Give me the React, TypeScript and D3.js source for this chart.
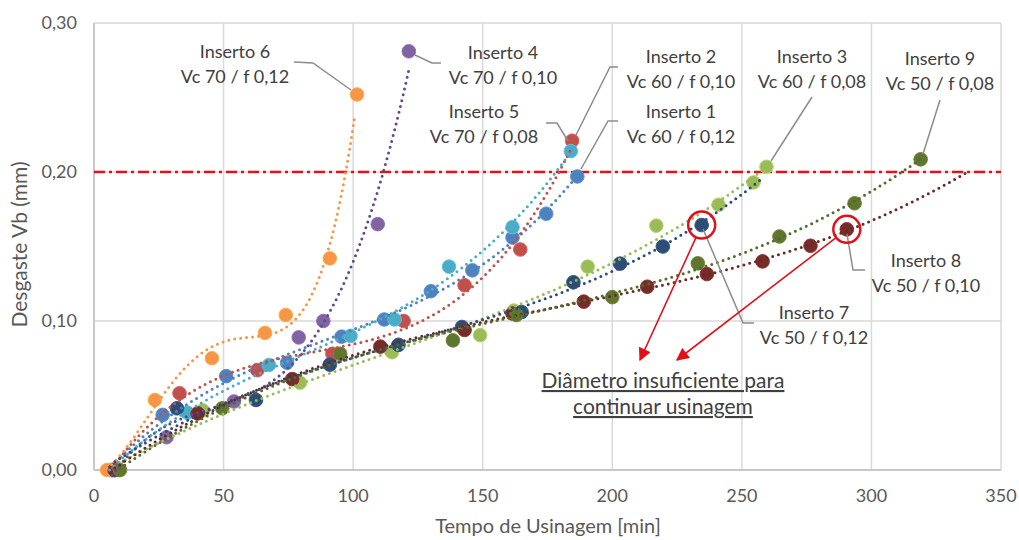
import * as d3 from 'd3';

// Tempo de usinagem [min] e desgaste Vb [mm] por inserto
const tempo1 = [7, 26.5, 51, 74.5, 95.5, 112, 130, 146, 161.5, 174.5, 186.5];
const desgaste1 = [0, 0.037, 0.063, 0.072, 0.0895, 0.101, 0.12, 0.134, 0.156, 0.172, 0.197];
const tempo2 = [7, 33, 63, 92, 119.5, 143, 164.5, 184.5];
const desgaste2 = [0, 0.0515, 0.067, 0.078, 0.1, 0.124, 0.148, 0.221];
const tempo3 = [10, 42, 79.5, 115, 149, 162, 190.5, 217, 241, 254.5, 259.5];
const desgaste3 = [0, 0.04, 0.0586, 0.079, 0.0905, 0.107, 0.1365, 0.164, 0.178, 0.193, 0.2035];
const tempo4 = [7, 28, 54, 79, 88.5, 109.5, 121.5];
const desgaste4 = [0, 0.022, 0.046, 0.089, 0.1, 0.165, 0.281];
const tempo5 = [6, 36, 67.5, 99, 116, 137, 161.5, 184];
const desgaste5 = [0, 0.0385, 0.0705, 0.09, 0.101, 0.1365, 0.163, 0.214];
const tempo6 = [5, 23.5, 45.5, 66, 74, 91, 101.5];
const desgaste6 = [0, 0.047, 0.075, 0.092, 0.104, 0.142, 0.252];
const tempo7 = [8, 32, 62.5, 91, 117.5, 142, 165, 185, 203, 219.5, 234.5];
const desgaste7 = [0, 0.0414, 0.047, 0.0707, 0.084, 0.096, 0.106, 0.126, 0.1385, 0.15, 0.1644];
const tempo8 = [8, 40, 76.5, 110.5, 143, 161.5, 189, 213.5, 236.5, 258, 276.5, 290.5];
const desgaste8 = [0, 0.038, 0.061, 0.0828, 0.094, 0.105, 0.113, 0.123, 0.1315, 0.14, 0.1505, 0.1615];
const tempo9 = [10, 49.5, 95, 138.5, 163, 200, 233, 264.5, 293.5, 319];
const desgaste9 = [0, 0.0414, 0.078, 0.087, 0.104, 0.116, 0.1387, 0.1567, 0.179, 0.2085];

const insertNames = ['Inserto 1', 'Inserto 2', 'Inserto 3', 'Inserto 4', 'Inserto 5', 'Inserto 6', 'Inserto 7', 'Inserto 8', 'Inserto 9'];
const insertParams = ['Vc 60 / f 0,12', 'Vc 60 / f 0,10', 'Vc 60 / f 0,08', 'Vc 70 / f 0,10', 'Vc 70 / f 0,08', 'Vc 70 / f 0,12', 'Vc 50 / f 0,12', 'Vc 50 / f 0,10', 'Vc 50 / f 0,08'];
const insertColors = ['#4F81BD', '#C0504D', '#9BBB59', '#8064A2', '#4BACC6', '#F79646', '#2C4D75', '#772C2A', '#5F7530'];
const trendColors = ['#4F81BD', '#C0504D', '#9BBB59', '#5E4A8E', '#4BACC6', '#F79646', '#2C4D75', '#6A2826', '#55692B'];
const trendOrder = [3, 3, 3, 3, 3, 4, 3, 3, 3];
const trendEnd = [186.5, 184.5, 259.5, 121.5, 184, 100.5, 258, 337, 319];

const xTicks = [0, 50, 100, 150, 200, 250, 300, 350];
const yTicks = [0, 0.1, 0.2, 0.3];
const limiteVb = 0.2;

const tempos = [tempo1, tempo2, tempo3, tempo4, tempo5, tempo6, tempo7, tempo8, tempo9];
const desgastes = [desgaste1, desgaste2, desgaste3, desgaste4, desgaste5, desgaste6, desgaste7, desgaste8, desgaste9];

const W = 1019;
const H = 540;
const FONT = 'Lato, "Open Sans", sans-serif';

// least squares polynomial (Excel style trendline)
function polyfit(xs: number[], ys: number[], order: number) {
  const n = order + 1;
  const A = Array.from({ length: n }, () => new Array(n + 1).fill(0));
  xs.forEach((xv, k) => {
    const t = xv / 100;
    for (let i = 0; i < n; i++) {
      for (let j = 0; j < n; j++) A[i][j] += Math.pow(t, i + j);
      A[i][n] += ys[k] * Math.pow(t, i);
    }
  });
  for (let c = 0; c < n; c++) {
    let p = c;
    for (let r = c + 1; r < n; r++) if (Math.abs(A[r][c]) > Math.abs(A[p][c])) p = r;
    [A[c], A[p]] = [A[p], A[c]];
    for (let r = 0; r < n; r++) {
      if (r === c) continue;
      const f = A[r][c] / A[c][c];
      for (let k = c; k <= n; k++) A[r][k] -= f * A[c][k];
    }
  }
  const coef = A.map((row, i) => row[n] / row[i]);
  return (xv: number) => coef.reduce((s, c, i) => s + c * Math.pow(xv / 100, i), 0);
}

// callout layout: label centre, baseline of first line, leader polyline (pixels)
const callouts = [
  { i: 0, cx: 681, by: 118, leader: [[618, 121], [608, 121], [581, 169]] },
  { i: 1, cx: 681, by: 63, leader: [[618, 67], [610, 67], [576, 135]] },
  { i: 2, cx: 812, by: 63, leader: [[812, 97], [771, 161]] },
  { i: 3, cx: 503, by: 59, leader: [[441, 63], [432, 63], [415, 55]] },
  { i: 4, cx: 484, by: 118, leader: [[546, 123], [557, 123], [568, 141]] },
  { i: 5, cx: 235, by: 58, leader: [[294, 62], [313, 63], [351, 90]] },
  { i: 6, cx: 814, by: 319, leader: [[703, 229], [743, 323], [754, 323]] },
  { i: 7, cx: 926, by: 267, leader: [[847, 234], [853, 270], [865, 270]] },
  { i: 8, cx: 940, by: 65, leader: [[940, 100], [923, 154]] },
];

export default function App() {
  const x = d3.scaleLinear().domain([0, 350]).range([94, 1001]);
  const y = d3.scaleLinear().domain([0, 0.3]).range([470, 23]);
  const line = d3.line<[number, number]>().x(d => x(d[0])).y(d => y(d[1]));

  const trends = tempos.map((xs, i) => {
    const f = polyfit(xs, desgastes[i], trendOrder[i]);
    const pts: [number, number][] = d3.range(xs[0], trendEnd[i], 1).map(t => [t, f(t)] as [number, number]);
    pts.push([trendEnd[i], f(trendEnd[i])]);
    return line(pts) || '';
  });

  const circled = [6, 7];
  const arrowTips: [number, number][] = [[640, 360], [677, 360]];

  return (
    <svg width={W} height={H} style={{ position: 'absolute', left: 0, top: 0, background: '#fff' }} fontFamily={FONT}>
      <defs>
        <marker id="arrow" viewBox="0 0 10 10" refX="9" refY="5" markerWidth="9" markerHeight="8" orient="auto-start-reverse" markerUnits="strokeWidth">
          <path d="M0,0 L10,5 L0,10 z" fill="#E3101A" />
        </marker>
      </defs>

      {/* grid */}
      {xTicks.map(t => (
        <line key={'gx' + t} x1={x(t)} x2={x(t)} y1={y(0.3)} y2={y(0)} stroke="#D9D9D9" strokeWidth={1.5} />
      ))}
      {yTicks.map(t => (
        <line key={'gy' + t} x1={x(0)} x2={x(350)} y1={y(t)} y2={y(t)} stroke="#D9D9D9" strokeWidth={1.5} />
      ))}
      <line x1={x(0)} x2={x(0)} y1={y(0.3)} y2={y(0)} stroke="#BFBFBF" strokeWidth={1.5} />
      <line x1={x(0)} x2={x(350)} y1={y(0)} y2={y(0)} stroke="#BFBFBF" strokeWidth={1.5} />

      {/* tick labels */}
      {xTicks.map(t => (
        <text key={'tx' + t} x={x(t)} y={502} textAnchor="middle" fontSize={18} fill="#595959">{t}</text>
      ))}
      {yTicks.map(t => (
        <text key={'ty' + t} x={77} y={y(t) + 6} textAnchor="end" fontSize={18} fill="#595959">
          {d3.format('.2f')(t).replace('.', ',')}
        </text>
      ))}
      <text x={548} y={533} textAnchor="middle" fontSize={20} fill="#595959">Tempo de Usinagem [min]</text>
      <text transform={`translate(27,${y(0.15) - 2}) rotate(-90)`} textAnchor="middle" fontSize={21} fill="#595959">Desgaste Vb (mm)</text>

      {/* limite Vb */}
      <line x1={x(0)} x2={x(350)} y1={y(limiteVb)} y2={y(limiteVb)} stroke="#E3101A" strokeWidth={2.5} strokeDasharray="11 4 3 4" />

      {/* markers */}
      {tempos.map((xs, i) => (
        <g key={'m' + i}>
          {xs.map((t, k) => (
            <circle key={k} cx={x(t)} cy={y(desgastes[i][k])} r={6.8} fill={insertColors[i]}
              stroke={d3.color(insertColors[i])!.brighter(0.4).toString()} strokeWidth={1} />
          ))}
        </g>
      ))}

      {/* trendlines */}
      {trends.map((d, i) => (
        <path key={'t' + i} d={d} fill="none" stroke={trendColors[i]} strokeWidth={3} strokeDasharray="0 6" strokeLinecap="round" />
      ))}

      {/* callouts */}
      {callouts.map(c => (
        <g key={'c' + c.i}>
          <polyline points={c.leader.map(p => p.join(',')).join(' ')} fill="none" stroke="#8C8C8C" strokeWidth={1.5} />
          <text x={c.cx} y={c.by} textAnchor="middle" fontSize={18} fill="#404040">{insertNames[c.i]}</text>
          <text x={c.cx} y={c.by + 25} textAnchor="middle" fontSize={18} fill="#404040">{insertParams[c.i]}</text>
        </g>
      ))}

      {/* circled end points and arrows */}
      {circled.map((i, k) => {
        const last = tempos[i].length - 1;
        const cx = x(tempos[i][last]);
        const cy = y(desgastes[i][last]);
        const [tx, ty] = arrowTips[k];
        const ang = Math.atan2(ty - cy, tx - cx);
        return (
          <g key={'r' + i}>
            <circle cx={cx} cy={cy} r={13.5} fill="none" stroke="#E3101A" strokeWidth={2.5} />
            <line x1={cx + 13.5 * Math.cos(ang)} y1={cy + 13.5 * Math.sin(ang)} x2={tx} y2={ty}
              stroke="#E3101A" strokeWidth={1.6} markerEnd="url(#arrow)" />
          </g>
        );
      })}

      <text x={663} y={388} textAnchor="middle" fontSize={21} fill="#404040" style={{ textDecoration: 'underline' }}>Diâmetro insuficiente para</text>
      <text x={663} y={414} textAnchor="middle" fontSize={21} fill="#404040" style={{ textDecoration: 'underline' }}>continuar usinagem</text>
    </svg>
  );
}
